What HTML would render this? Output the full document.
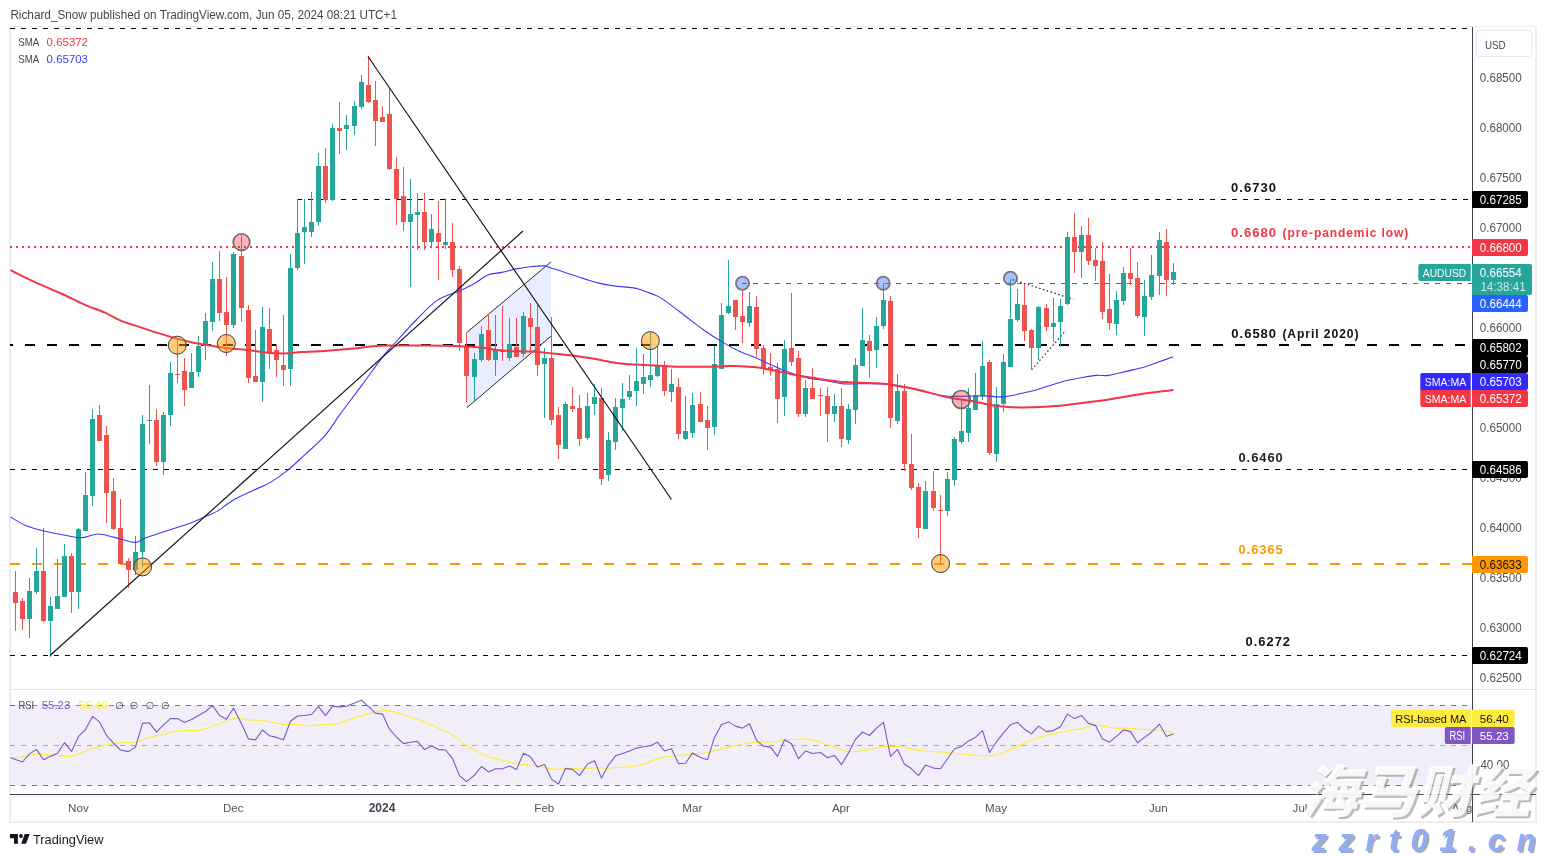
<!DOCTYPE html>
<html><head><meta charset="utf-8"><title>AUDUSD chart</title>
<style>
html,body{margin:0;padding:0;background:#fff;}
body{width:1546px;height:857px;overflow:hidden;position:relative;font-family:"Liberation Sans","DejaVu Sans",sans-serif;}
svg{position:absolute;left:0;top:0;display:block;}
text{font-family:"Liberation Sans","DejaVu Sans",sans-serif;}
.ax{font-size:12px;fill:#50535e;}
.lb{font-size:11.6px;fill:#fff;}
.ann{font-size:13px;font-weight:bold;letter-spacing:1px;}
.tm{font-size:11.6px;fill:#50535e;}
.cjk{font-family:"Liberation Sans","Noto Sans CJK SC",sans-serif;font-weight:900;font-style:italic;}
</style></head><body>
<svg width="1546" height="857" viewBox="0 0 1546 857">
<rect x="0" y="0" width="1546" height="857" fill="#ffffff"/>
<g shape-rendering="crispEdges">
<rect x="9" y="26" width="1528" height="1.4" fill="#ecedf5"/>
<rect x="9" y="26" width="2" height="797" fill="#ebedf5"/>
<rect x="1535" y="26" width="2" height="797" fill="#ebedf5"/>
<rect x="9" y="821" width="1528" height="2" fill="#ecedf5"/>
<rect x="10" y="688.5" width="1526" height="1" fill="#e0e3eb"/>
<rect x="10" y="705" width="1462" height="80.5" fill="#f2eef9"/>
</g>
<g fill="none" stroke-width="1" shape-rendering="crispEdges">
<path d="M10 705.5H1472" stroke="#787b86" stroke-dasharray="5 6"/>
<path d="M10 745.5H1472" stroke="#a5a7ae" stroke-dasharray="5 6"/>
<path d="M10 785.5H1472" stroke="#787b86" stroke-dasharray="5 6"/>
</g>
<g fill="none" shape-rendering="crispEdges">
<path d="M10 28.5H1472" stroke="#000" stroke-width="1" stroke-dasharray="5 6"/>
<path d="M297 199.5H1472" stroke="#000" stroke-width="1" stroke-dasharray="5 6"/>
<path d="M10 247H1472" stroke="#f23645" stroke-width="2" stroke-dasharray="2 4"/>
<path d="M742 283.5H1472" stroke="#2962ff" stroke-width="1" stroke-dasharray="5 6"/>
<path d="M10 345H1472" stroke="#000" stroke-width="2" stroke-dasharray="10 12" stroke-dashoffset="6.7"/>
<path d="M10 469.5H1472" stroke="#000" stroke-width="1" stroke-dasharray="5 6"/>
<path d="M10 564H1472" stroke="#ff9800" stroke-width="2" stroke-dasharray="10 12"/>
<path d="M10 655.5H1472" stroke="#000" stroke-width="1" stroke-dasharray="5 6"/>
</g>
<polygon points="466.5,332.7 551,261.9 551,336.2 466.5,408" fill="#2962ff" fill-opacity="0.11"/>
<path d="M466.5 332.7L551 261.9M466.5 408L551 336.2" stroke="#2a2a2a" stroke-width="1" fill="none"/>
<path d="M1012.5 279.6L1073.7 299.4M1031.6 369.7L1066 330.4" stroke="#222" stroke-width="1.2" stroke-dasharray="1.5 2.5" fill="none"/>
<g shape-rendering="crispEdges">
<rect x="15" y="571" width="1" height="60" fill="#ef5350"/>
<rect x="13" y="592" width="5" height="11" fill="#ef5350"/>
<rect x="22" y="598" width="1" height="32" fill="#ef5350"/>
<rect x="20" y="601" width="5" height="18" fill="#ef5350"/>
<rect x="29" y="578" width="1" height="60" fill="#26a69a"/>
<rect x="27" y="591" width="5" height="28" fill="#26a69a"/>
<rect x="36" y="548" width="1" height="46" fill="#26a69a"/>
<rect x="34" y="571" width="5" height="21" fill="#26a69a"/>
<rect x="43" y="528" width="1" height="94" fill="#ef5350"/>
<rect x="41" y="571" width="5" height="50" fill="#ef5350"/>
<rect x="50" y="597" width="1" height="60" fill="#26a69a"/>
<rect x="48" y="606" width="5" height="15" fill="#26a69a"/>
<rect x="57" y="559" width="1" height="50" fill="#26a69a"/>
<rect x="55" y="596" width="5" height="13" fill="#26a69a"/>
<rect x="64" y="544" width="1" height="53" fill="#26a69a"/>
<rect x="62" y="556" width="5" height="41" fill="#26a69a"/>
<rect x="71" y="553" width="1" height="60" fill="#ef5350"/>
<rect x="69" y="556" width="5" height="36" fill="#ef5350"/>
<rect x="78" y="528" width="1" height="81" fill="#26a69a"/>
<rect x="76" y="529" width="5" height="63" fill="#26a69a"/>
<rect x="85" y="472" width="1" height="59" fill="#26a69a"/>
<rect x="83" y="495" width="5" height="36" fill="#26a69a"/>
<rect x="92" y="409" width="1" height="97" fill="#26a69a"/>
<rect x="90" y="419" width="5" height="77" fill="#26a69a"/>
<rect x="99" y="405" width="1" height="36" fill="#ef5350"/>
<rect x="97" y="415" width="5" height="26" fill="#ef5350"/>
<rect x="106" y="426" width="1" height="97" fill="#ef5350"/>
<rect x="104" y="435" width="5" height="58" fill="#ef5350"/>
<rect x="113" y="478" width="1" height="52" fill="#ef5350"/>
<rect x="111" y="491" width="5" height="38" fill="#ef5350"/>
<rect x="120" y="499" width="1" height="65" fill="#ef5350"/>
<rect x="118" y="528" width="5" height="36" fill="#ef5350"/>
<rect x="128" y="558" width="1" height="30" fill="#ef5350"/>
<rect x="126" y="561" width="5" height="9" fill="#ef5350"/>
<rect x="135" y="536" width="1" height="39" fill="#26a69a"/>
<rect x="133" y="552" width="5" height="18" fill="#26a69a"/>
<rect x="142" y="415" width="1" height="152" fill="#26a69a"/>
<rect x="140" y="424" width="5" height="128" fill="#26a69a"/>
<rect x="149" y="385" width="1" height="59" fill="#26a69a"/>
<rect x="147" y="420" width="5" height="1" fill="#26a69a"/>
<rect x="156" y="409" width="1" height="57" fill="#ef5350"/>
<rect x="154" y="420" width="5" height="42" fill="#ef5350"/>
<rect x="163" y="412" width="1" height="63" fill="#26a69a"/>
<rect x="161" y="415" width="5" height="47" fill="#26a69a"/>
<rect x="170" y="362" width="1" height="64" fill="#26a69a"/>
<rect x="168" y="373" width="5" height="42" fill="#26a69a"/>
<rect x="177" y="338" width="1" height="45" fill="#ef5350"/>
<rect x="175" y="374" width="5" height="1" fill="#ef5350"/>
<rect x="184" y="358" width="1" height="48" fill="#ef5350"/>
<rect x="182" y="371" width="5" height="19" fill="#ef5350"/>
<rect x="191" y="353" width="1" height="35" fill="#26a69a"/>
<rect x="189" y="372" width="5" height="16" fill="#26a69a"/>
<rect x="198" y="336" width="1" height="41" fill="#26a69a"/>
<rect x="196" y="346" width="5" height="26" fill="#26a69a"/>
<rect x="205" y="313" width="1" height="47" fill="#26a69a"/>
<rect x="203" y="321" width="5" height="25" fill="#26a69a"/>
<rect x="212" y="262" width="1" height="69" fill="#26a69a"/>
<rect x="210" y="279" width="5" height="43" fill="#26a69a"/>
<rect x="219" y="251" width="1" height="70" fill="#ef5350"/>
<rect x="217" y="279" width="5" height="34" fill="#ef5350"/>
<rect x="226" y="277" width="1" height="79" fill="#ef5350"/>
<rect x="224" y="312" width="5" height="13" fill="#ef5350"/>
<rect x="233" y="252" width="1" height="76" fill="#26a69a"/>
<rect x="231" y="254" width="5" height="71" fill="#26a69a"/>
<rect x="241" y="235" width="1" height="87" fill="#ef5350"/>
<rect x="239" y="256" width="5" height="52" fill="#ef5350"/>
<rect x="248" y="305" width="1" height="78" fill="#ef5350"/>
<rect x="246" y="310" width="5" height="68" fill="#ef5350"/>
<rect x="255" y="330" width="1" height="52" fill="#ef5350"/>
<rect x="253" y="376" width="5" height="6" fill="#ef5350"/>
<rect x="262" y="307" width="1" height="95" fill="#26a69a"/>
<rect x="260" y="327" width="5" height="55" fill="#26a69a"/>
<rect x="269" y="308" width="1" height="61" fill="#ef5350"/>
<rect x="267" y="329" width="5" height="23" fill="#ef5350"/>
<rect x="276" y="344" width="1" height="33" fill="#ef5350"/>
<rect x="274" y="350" width="5" height="10" fill="#ef5350"/>
<rect x="283" y="315" width="1" height="71" fill="#ef5350"/>
<rect x="281" y="365" width="5" height="5" fill="#ef5350"/>
<rect x="290" y="254" width="1" height="132" fill="#26a69a"/>
<rect x="288" y="268" width="5" height="101" fill="#26a69a"/>
<rect x="297" y="199" width="1" height="71" fill="#26a69a"/>
<rect x="295" y="233" width="5" height="35" fill="#26a69a"/>
<rect x="304" y="199" width="1" height="65" fill="#26a69a"/>
<rect x="302" y="227" width="5" height="5" fill="#26a69a"/>
<rect x="311" y="192" width="1" height="45" fill="#26a69a"/>
<rect x="309" y="222" width="5" height="10" fill="#26a69a"/>
<rect x="318" y="153" width="1" height="73" fill="#26a69a"/>
<rect x="316" y="166" width="5" height="56" fill="#26a69a"/>
<rect x="325" y="148" width="1" height="55" fill="#ef5350"/>
<rect x="323" y="166" width="5" height="34" fill="#ef5350"/>
<rect x="332" y="124" width="1" height="77" fill="#26a69a"/>
<rect x="330" y="128" width="5" height="72" fill="#26a69a"/>
<rect x="339" y="102" width="1" height="52" fill="#ef5350"/>
<rect x="337" y="128" width="5" height="3" fill="#ef5350"/>
<rect x="346" y="115" width="1" height="35" fill="#26a69a"/>
<rect x="344" y="125" width="5" height="4" fill="#26a69a"/>
<rect x="354" y="101" width="1" height="34" fill="#26a69a"/>
<rect x="352" y="106" width="5" height="20" fill="#26a69a"/>
<rect x="361" y="75" width="1" height="34" fill="#26a69a"/>
<rect x="359" y="82" width="5" height="25" fill="#26a69a"/>
<rect x="368" y="56" width="1" height="47" fill="#ef5350"/>
<rect x="366" y="85" width="5" height="17" fill="#ef5350"/>
<rect x="375" y="81" width="1" height="65" fill="#ef5350"/>
<rect x="373" y="100" width="5" height="21" fill="#ef5350"/>
<rect x="382" y="106" width="1" height="16" fill="#ef5350"/>
<rect x="380" y="117" width="5" height="5" fill="#ef5350"/>
<rect x="389" y="88" width="1" height="82" fill="#ef5350"/>
<rect x="387" y="114" width="5" height="55" fill="#ef5350"/>
<rect x="396" y="157" width="1" height="68" fill="#ef5350"/>
<rect x="394" y="169" width="5" height="30" fill="#ef5350"/>
<rect x="403" y="167" width="1" height="64" fill="#ef5350"/>
<rect x="401" y="196" width="5" height="26" fill="#ef5350"/>
<rect x="410" y="179" width="1" height="108" fill="#26a69a"/>
<rect x="408" y="214" width="5" height="8" fill="#26a69a"/>
<rect x="417" y="193" width="1" height="57" fill="#26a69a"/>
<rect x="415" y="212" width="5" height="3" fill="#26a69a"/>
<rect x="424" y="193" width="1" height="57" fill="#ef5350"/>
<rect x="422" y="212" width="5" height="30" fill="#ef5350"/>
<rect x="431" y="214" width="1" height="34" fill="#26a69a"/>
<rect x="429" y="229" width="5" height="13" fill="#26a69a"/>
<rect x="438" y="201" width="1" height="79" fill="#ef5350"/>
<rect x="436" y="233" width="5" height="9" fill="#ef5350"/>
<rect x="445" y="198" width="1" height="51" fill="#26a69a"/>
<rect x="443" y="242" width="5" height="3" fill="#26a69a"/>
<rect x="452" y="223" width="1" height="54" fill="#ef5350"/>
<rect x="450" y="242" width="5" height="28" fill="#ef5350"/>
<rect x="459" y="266" width="1" height="85" fill="#ef5350"/>
<rect x="457" y="269" width="5" height="74" fill="#ef5350"/>
<rect x="466" y="333" width="1" height="69" fill="#ef5350"/>
<rect x="464" y="346" width="5" height="30" fill="#ef5350"/>
<rect x="474" y="353" width="1" height="48" fill="#26a69a"/>
<rect x="472" y="359" width="5" height="18" fill="#26a69a"/>
<rect x="481" y="326" width="1" height="36" fill="#26a69a"/>
<rect x="479" y="334" width="5" height="26" fill="#26a69a"/>
<rect x="488" y="314" width="1" height="47" fill="#ef5350"/>
<rect x="486" y="330" width="5" height="30" fill="#ef5350"/>
<rect x="495" y="315" width="1" height="61" fill="#26a69a"/>
<rect x="493" y="350" width="5" height="10" fill="#26a69a"/>
<rect x="502" y="306" width="1" height="55" fill="#ef5350"/>
<rect x="500" y="350" width="5" height="2" fill="#ef5350"/>
<rect x="509" y="318" width="1" height="43" fill="#26a69a"/>
<rect x="507" y="344" width="5" height="14" fill="#26a69a"/>
<rect x="516" y="318" width="1" height="39" fill="#ef5350"/>
<rect x="514" y="347" width="5" height="10" fill="#ef5350"/>
<rect x="523" y="312" width="1" height="45" fill="#26a69a"/>
<rect x="521" y="316" width="5" height="38" fill="#26a69a"/>
<rect x="530" y="303" width="1" height="48" fill="#ef5350"/>
<rect x="528" y="318" width="5" height="9" fill="#ef5350"/>
<rect x="537" y="305" width="1" height="71" fill="#ef5350"/>
<rect x="535" y="327" width="5" height="38" fill="#ef5350"/>
<rect x="544" y="348" width="1" height="70" fill="#26a69a"/>
<rect x="542" y="358" width="5" height="6" fill="#26a69a"/>
<rect x="551" y="317" width="1" height="108" fill="#ef5350"/>
<rect x="549" y="358" width="5" height="62" fill="#ef5350"/>
<rect x="558" y="407" width="1" height="52" fill="#ef5350"/>
<rect x="556" y="415" width="5" height="30" fill="#ef5350"/>
<rect x="565" y="402" width="1" height="47" fill="#26a69a"/>
<rect x="563" y="404" width="5" height="45" fill="#26a69a"/>
<rect x="572" y="387" width="1" height="25" fill="#ef5350"/>
<rect x="570" y="406" width="5" height="3" fill="#ef5350"/>
<rect x="579" y="395" width="1" height="51" fill="#ef5350"/>
<rect x="577" y="408" width="5" height="31" fill="#ef5350"/>
<rect x="587" y="393" width="1" height="47" fill="#26a69a"/>
<rect x="585" y="406" width="5" height="32" fill="#26a69a"/>
<rect x="594" y="384" width="1" height="31" fill="#26a69a"/>
<rect x="592" y="397" width="5" height="7" fill="#26a69a"/>
<rect x="601" y="388" width="1" height="97" fill="#ef5350"/>
<rect x="599" y="398" width="5" height="81" fill="#ef5350"/>
<rect x="608" y="432" width="1" height="49" fill="#26a69a"/>
<rect x="606" y="440" width="5" height="35" fill="#26a69a"/>
<rect x="615" y="398" width="1" height="52" fill="#26a69a"/>
<rect x="613" y="407" width="5" height="35" fill="#26a69a"/>
<rect x="622" y="383" width="1" height="48" fill="#26a69a"/>
<rect x="620" y="399" width="5" height="9" fill="#26a69a"/>
<rect x="629" y="375" width="1" height="25" fill="#26a69a"/>
<rect x="627" y="391" width="5" height="6" fill="#26a69a"/>
<rect x="636" y="348" width="1" height="58" fill="#26a69a"/>
<rect x="634" y="381" width="5" height="10" fill="#26a69a"/>
<rect x="643" y="354" width="1" height="40" fill="#26a69a"/>
<rect x="641" y="377" width="5" height="7" fill="#26a69a"/>
<rect x="650" y="332" width="1" height="55" fill="#26a69a"/>
<rect x="648" y="375" width="5" height="5" fill="#26a69a"/>
<rect x="657" y="346" width="1" height="31" fill="#26a69a"/>
<rect x="655" y="365" width="5" height="11" fill="#26a69a"/>
<rect x="664" y="361" width="1" height="35" fill="#ef5350"/>
<rect x="662" y="365" width="5" height="26" fill="#ef5350"/>
<rect x="671" y="369" width="1" height="33" fill="#26a69a"/>
<rect x="669" y="384" width="5" height="8" fill="#26a69a"/>
<rect x="678" y="378" width="1" height="61" fill="#ef5350"/>
<rect x="676" y="387" width="5" height="47" fill="#ef5350"/>
<rect x="685" y="396" width="1" height="44" fill="#26a69a"/>
<rect x="683" y="431" width="5" height="8" fill="#26a69a"/>
<rect x="692" y="393" width="1" height="45" fill="#26a69a"/>
<rect x="690" y="405" width="5" height="28" fill="#26a69a"/>
<rect x="700" y="392" width="1" height="30" fill="#ef5350"/>
<rect x="698" y="404" width="5" height="18" fill="#ef5350"/>
<rect x="707" y="406" width="1" height="44" fill="#ef5350"/>
<rect x="705" y="420" width="5" height="8" fill="#ef5350"/>
<rect x="714" y="346" width="1" height="89" fill="#26a69a"/>
<rect x="712" y="364" width="5" height="63" fill="#26a69a"/>
<rect x="721" y="303" width="1" height="66" fill="#26a69a"/>
<rect x="719" y="315" width="5" height="54" fill="#26a69a"/>
<rect x="728" y="260" width="1" height="54" fill="#26a69a"/>
<rect x="726" y="306" width="5" height="7" fill="#26a69a"/>
<rect x="735" y="300" width="1" height="30" fill="#ef5350"/>
<rect x="733" y="300" width="5" height="17" fill="#ef5350"/>
<rect x="742" y="290" width="1" height="53" fill="#ef5350"/>
<rect x="740" y="316" width="5" height="6" fill="#ef5350"/>
<rect x="749" y="292" width="1" height="35" fill="#26a69a"/>
<rect x="747" y="306" width="5" height="17" fill="#26a69a"/>
<rect x="756" y="296" width="1" height="61" fill="#ef5350"/>
<rect x="754" y="307" width="5" height="42" fill="#ef5350"/>
<rect x="763" y="345" width="1" height="30" fill="#ef5350"/>
<rect x="761" y="348" width="5" height="20" fill="#ef5350"/>
<rect x="770" y="353" width="1" height="23" fill="#ef5350"/>
<rect x="768" y="367" width="5" height="3" fill="#ef5350"/>
<rect x="777" y="363" width="1" height="60" fill="#ef5350"/>
<rect x="775" y="369" width="5" height="30" fill="#ef5350"/>
<rect x="784" y="340" width="1" height="76" fill="#26a69a"/>
<rect x="782" y="349" width="5" height="48" fill="#26a69a"/>
<rect x="791" y="293" width="1" height="73" fill="#ef5350"/>
<rect x="789" y="348" width="5" height="14" fill="#ef5350"/>
<rect x="798" y="351" width="1" height="66" fill="#ef5350"/>
<rect x="796" y="358" width="5" height="56" fill="#ef5350"/>
<rect x="805" y="380" width="1" height="37" fill="#26a69a"/>
<rect x="803" y="388" width="5" height="26" fill="#26a69a"/>
<rect x="812" y="368" width="1" height="31" fill="#ef5350"/>
<rect x="810" y="388" width="5" height="11" fill="#ef5350"/>
<rect x="820" y="388" width="1" height="28" fill="#ef5350"/>
<rect x="818" y="395" width="5" height="1" fill="#ef5350"/>
<rect x="827" y="387" width="1" height="55" fill="#ef5350"/>
<rect x="825" y="396" width="5" height="18" fill="#ef5350"/>
<rect x="834" y="394" width="1" height="28" fill="#26a69a"/>
<rect x="832" y="406" width="5" height="8" fill="#26a69a"/>
<rect x="841" y="388" width="1" height="59" fill="#ef5350"/>
<rect x="839" y="406" width="5" height="33" fill="#ef5350"/>
<rect x="848" y="404" width="1" height="40" fill="#26a69a"/>
<rect x="846" y="409" width="5" height="31" fill="#26a69a"/>
<rect x="855" y="358" width="1" height="66" fill="#26a69a"/>
<rect x="853" y="365" width="5" height="45" fill="#26a69a"/>
<rect x="862" y="308" width="1" height="58" fill="#26a69a"/>
<rect x="860" y="340" width="5" height="26" fill="#26a69a"/>
<rect x="869" y="335" width="1" height="43" fill="#ef5350"/>
<rect x="867" y="341" width="5" height="10" fill="#ef5350"/>
<rect x="876" y="317" width="1" height="51" fill="#26a69a"/>
<rect x="874" y="326" width="5" height="24" fill="#26a69a"/>
<rect x="883" y="283" width="1" height="46" fill="#26a69a"/>
<rect x="881" y="300" width="5" height="26" fill="#26a69a"/>
<rect x="890" y="296" width="1" height="132" fill="#ef5350"/>
<rect x="888" y="301" width="5" height="117" fill="#ef5350"/>
<rect x="897" y="374" width="1" height="50" fill="#26a69a"/>
<rect x="895" y="391" width="5" height="30" fill="#26a69a"/>
<rect x="904" y="384" width="1" height="87" fill="#ef5350"/>
<rect x="902" y="391" width="5" height="73" fill="#ef5350"/>
<rect x="911" y="434" width="1" height="56" fill="#ef5350"/>
<rect x="909" y="464" width="5" height="24" fill="#ef5350"/>
<rect x="918" y="483" width="1" height="55" fill="#ef5350"/>
<rect x="916" y="487" width="5" height="41" fill="#ef5350"/>
<rect x="925" y="481" width="1" height="48" fill="#26a69a"/>
<rect x="923" y="491" width="5" height="38" fill="#26a69a"/>
<rect x="933" y="471" width="1" height="40" fill="#ef5350"/>
<rect x="931" y="491" width="5" height="17" fill="#ef5350"/>
<rect x="940" y="495" width="1" height="69" fill="#ef5350"/>
<rect x="938" y="510" width="5" height="1" fill="#ef5350"/>
<rect x="947" y="472" width="1" height="44" fill="#26a69a"/>
<rect x="945" y="479" width="5" height="32" fill="#26a69a"/>
<rect x="954" y="437" width="1" height="49" fill="#26a69a"/>
<rect x="952" y="439" width="5" height="41" fill="#26a69a"/>
<rect x="961" y="398" width="1" height="46" fill="#26a69a"/>
<rect x="959" y="431" width="5" height="11" fill="#26a69a"/>
<rect x="968" y="388" width="1" height="54" fill="#26a69a"/>
<rect x="966" y="408" width="5" height="25" fill="#26a69a"/>
<rect x="975" y="373" width="1" height="37" fill="#26a69a"/>
<rect x="973" y="395" width="5" height="15" fill="#26a69a"/>
<rect x="982" y="341" width="1" height="59" fill="#26a69a"/>
<rect x="980" y="366" width="5" height="30" fill="#26a69a"/>
<rect x="989" y="360" width="1" height="95" fill="#ef5350"/>
<rect x="987" y="362" width="5" height="91" fill="#ef5350"/>
<rect x="996" y="387" width="1" height="75" fill="#26a69a"/>
<rect x="994" y="404" width="5" height="50" fill="#26a69a"/>
<rect x="1003" y="354" width="1" height="58" fill="#26a69a"/>
<rect x="1001" y="362" width="5" height="42" fill="#26a69a"/>
<rect x="1010" y="279" width="1" height="88" fill="#26a69a"/>
<rect x="1008" y="319" width="5" height="48" fill="#26a69a"/>
<rect x="1017" y="289" width="1" height="33" fill="#26a69a"/>
<rect x="1015" y="304" width="5" height="16" fill="#26a69a"/>
<rect x="1024" y="284" width="1" height="57" fill="#ef5350"/>
<rect x="1022" y="305" width="5" height="26" fill="#ef5350"/>
<rect x="1031" y="329" width="1" height="41" fill="#ef5350"/>
<rect x="1029" y="330" width="5" height="18" fill="#ef5350"/>
<rect x="1038" y="306" width="1" height="54" fill="#26a69a"/>
<rect x="1036" y="307" width="5" height="41" fill="#26a69a"/>
<rect x="1046" y="304" width="1" height="27" fill="#ef5350"/>
<rect x="1044" y="308" width="5" height="19" fill="#ef5350"/>
<rect x="1053" y="298" width="1" height="44" fill="#26a69a"/>
<rect x="1051" y="323" width="5" height="4" fill="#26a69a"/>
<rect x="1060" y="299" width="1" height="48" fill="#26a69a"/>
<rect x="1058" y="306" width="5" height="16" fill="#26a69a"/>
<rect x="1067" y="232" width="1" height="73" fill="#26a69a"/>
<rect x="1065" y="237" width="5" height="67" fill="#26a69a"/>
<rect x="1074" y="213" width="1" height="60" fill="#ef5350"/>
<rect x="1072" y="237" width="5" height="15" fill="#ef5350"/>
<rect x="1081" y="226" width="1" height="52" fill="#26a69a"/>
<rect x="1079" y="235" width="5" height="17" fill="#26a69a"/>
<rect x="1088" y="218" width="1" height="47" fill="#ef5350"/>
<rect x="1086" y="235" width="5" height="26" fill="#ef5350"/>
<rect x="1095" y="248" width="1" height="33" fill="#ef5350"/>
<rect x="1093" y="260" width="5" height="6" fill="#ef5350"/>
<rect x="1102" y="242" width="1" height="77" fill="#ef5350"/>
<rect x="1100" y="261" width="5" height="51" fill="#ef5350"/>
<rect x="1109" y="274" width="1" height="56" fill="#ef5350"/>
<rect x="1107" y="309" width="5" height="14" fill="#ef5350"/>
<rect x="1116" y="291" width="1" height="44" fill="#26a69a"/>
<rect x="1114" y="300" width="5" height="24" fill="#26a69a"/>
<rect x="1123" y="267" width="1" height="38" fill="#26a69a"/>
<rect x="1121" y="273" width="5" height="28" fill="#26a69a"/>
<rect x="1130" y="248" width="1" height="37" fill="#ef5350"/>
<rect x="1128" y="273" width="5" height="6" fill="#ef5350"/>
<rect x="1137" y="262" width="1" height="56" fill="#ef5350"/>
<rect x="1135" y="278" width="5" height="38" fill="#ef5350"/>
<rect x="1144" y="280" width="1" height="56" fill="#26a69a"/>
<rect x="1142" y="296" width="5" height="21" fill="#26a69a"/>
<rect x="1151" y="255" width="1" height="45" fill="#26a69a"/>
<rect x="1149" y="275" width="5" height="22" fill="#26a69a"/>
<rect x="1159" y="232" width="1" height="63" fill="#26a69a"/>
<rect x="1157" y="240" width="5" height="36" fill="#26a69a"/>
<rect x="1166" y="229" width="1" height="67" fill="#ef5350"/>
<rect x="1164" y="242" width="5" height="38" fill="#ef5350"/>
<rect x="1173" y="263" width="1" height="22" fill="#26a69a"/>
<rect x="1171" y="272" width="5" height="8" fill="#26a69a"/>
</g>
<path d="M10.5 517.0C13.1 518.5 20.7 523.4 26.2 525.7C31.7 528.0 37.9 529.5 43.7 531.0C49.5 532.5 55.7 533.4 61.2 534.5C66.8 535.6 72.9 537.1 77.0 537.5C81.1 537.9 82.2 537.7 85.7 537.1C89.2 536.5 93.3 534.0 98.0 534.0C102.7 534.0 107.6 535.7 113.7 537.1C119.8 538.5 129.4 542.2 134.7 542.4C139.9 542.5 139.9 539.9 145.2 538.0C150.4 536.1 158.3 533.6 166.2 531.0C174.1 528.4 185.8 524.7 192.5 522.2C199.2 519.7 202.3 518.0 206.5 516.1C210.7 514.2 213.4 513.5 217.8 510.9C222.2 508.3 226.6 503.9 232.7 500.4C238.8 496.9 248.0 493.0 254.2 490.0C260.4 487.0 264.4 485.9 270.0 482.6C275.6 479.3 281.7 475.1 287.5 470.4C293.3 465.7 298.7 460.4 305.0 454.6C311.3 448.8 319.3 442.1 325.1 435.4C330.9 428.7 334.0 422.6 340.0 414.4C346.0 406.2 353.7 396.2 361.0 386.4C368.3 376.6 377.6 363.4 383.7 355.7C389.8 348.0 392.3 345.9 397.7 340.0C403.1 334.1 409.6 326.6 416.2 320.0C422.8 313.4 429.9 305.3 437.2 300.4C444.5 295.5 453.9 293.5 460.0 290.7C466.1 287.9 469.3 286.3 474.0 283.7C478.7 281.1 483.3 276.9 488.0 275.0C492.7 273.1 497.3 273.4 502.0 272.4C506.7 271.4 511.3 269.8 516.0 268.9C520.7 268.0 525.3 267.3 530.0 266.8C534.7 266.3 540.5 265.7 544.0 265.9C547.5 266.1 547.5 266.9 551.0 268.0C554.5 269.1 559.2 270.5 565.0 272.4C570.8 274.3 580.2 277.6 586.0 279.4C591.8 281.2 594.8 282.2 600.0 283.4C605.2 284.6 611.7 285.6 617.5 286.4C623.3 287.2 630.3 287.2 635.0 288.1C639.7 289.0 641.3 290.1 645.5 291.6C649.7 293.2 654.2 294.0 660.0 297.4C665.8 300.8 672.7 306.6 680.0 312.0C687.3 317.4 696.8 325.1 703.7 330.0C710.6 334.9 715.4 337.9 721.2 341.4C727.0 344.9 732.9 348.2 738.7 351.0C744.5 353.8 750.4 355.5 756.2 358.0C762.0 360.5 767.9 363.4 773.7 365.9C779.5 368.4 785.4 370.9 791.2 372.9C797.0 374.9 802.9 376.8 808.7 378.1C814.5 379.4 820.4 379.7 826.2 380.7C832.0 381.7 838.5 383.4 843.7 383.9C848.9 384.4 850.3 383.7 857.5 383.7C864.7 383.7 878.2 383.4 887.0 384.1C895.8 384.8 902.7 386.6 910.0 388.1C917.3 389.7 924.6 392.0 931.0 393.4C937.4 394.8 941.5 395.9 948.5 396.3C955.5 396.7 966.7 396.1 973.0 396.0C979.3 395.9 981.1 395.8 986.2 395.9C991.3 396.0 996.4 397.4 1003.7 396.7C1011.0 396.0 1022.7 393.2 1030.0 391.5C1037.3 389.8 1041.4 388.0 1047.5 386.2C1053.6 384.4 1060.9 381.9 1066.7 380.5C1072.5 379.1 1077.5 378.4 1082.5 377.5C1087.5 376.6 1092.1 375.8 1096.5 375.4C1100.9 375.0 1103.8 376.1 1108.7 375.4C1113.7 374.7 1120.4 372.8 1126.2 371.4C1132.0 370.0 1138.5 368.8 1143.7 367.3C1149.0 365.8 1152.8 364.1 1157.7 362.3C1162.6 360.6 1170.5 357.7 1173.1 356.8" fill="none" stroke="#3a3af5" stroke-width="1.1" stroke-linejoin="round"/>
<path d="M10.5 270.2C14.6 272.2 26.5 278.2 35.0 282.1C43.5 286.0 53.0 289.8 61.2 293.5C69.4 297.2 76.7 301.1 84.0 304.3C91.3 307.5 98.9 310.0 105.0 312.7C111.1 315.4 114.9 318.2 120.7 320.6C126.5 323.0 133.9 325.1 140.0 327.1C146.1 329.2 151.7 331.1 157.5 332.9C163.3 334.7 169.2 336.5 175.0 338.1C180.8 339.7 186.7 341.2 192.5 342.5C198.3 343.8 204.2 344.6 210.0 345.6C215.8 346.6 221.7 347.6 227.5 348.3C233.3 349.0 238.6 349.1 245.0 349.8C251.4 350.5 259.8 351.9 266.2 352.5C272.6 353.1 277.9 353.5 283.7 353.4C289.5 353.3 293.9 352.6 301.2 352.1C308.5 351.7 318.8 351.3 327.5 350.7C336.2 350.1 346.6 349.3 353.7 348.6C360.8 347.9 363.9 346.9 370.0 346.4C376.1 345.9 380.8 345.6 390.0 345.5C399.2 345.4 413.3 345.4 425.0 345.5C436.7 345.6 450.7 345.8 460.0 346.2C469.3 346.6 474.0 346.9 481.0 347.6C488.0 348.3 493.8 349.9 502.0 350.6C510.2 351.3 522.4 351.2 530.0 351.6C537.6 352.0 540.5 352.2 547.5 352.9C554.5 353.5 564.4 354.6 572.0 355.5C579.6 356.4 585.6 357.4 593.0 358.6C600.4 359.8 608.0 361.8 616.2 362.9C624.5 364.0 632.3 364.4 642.5 365.0C652.7 365.6 665.8 366.4 677.5 366.7C689.2 367.0 703.2 366.8 712.5 366.7C721.8 366.6 726.2 365.8 733.5 365.9C740.8 366.0 749.5 366.5 756.2 367.3C762.9 368.1 766.4 369.2 773.7 370.6C781.0 372.0 791.2 374.2 800.0 375.8C808.8 377.4 818.9 378.8 826.2 379.9C833.5 380.9 838.1 381.6 843.7 382.1C849.3 382.6 853.3 382.5 860.0 382.8C866.7 383.1 875.4 382.8 883.7 383.7C892.0 384.6 902.7 386.7 910.0 388.1C917.3 389.5 921.1 390.6 927.5 392.1C933.9 393.7 940.9 395.9 948.5 397.4C956.1 398.9 966.3 400.0 973.0 401.2C979.7 402.4 983.2 403.8 988.7 404.7C994.2 405.6 1000.2 406.4 1006.0 406.8C1011.8 407.2 1015.3 407.5 1023.7 407.4C1032.1 407.3 1046.4 406.8 1056.2 406.0C1066.0 405.2 1073.8 404.0 1082.5 402.9C1091.2 401.8 1100.0 400.7 1108.7 399.4C1117.5 398.1 1127.7 396.2 1135.0 395.0C1142.3 393.8 1146.1 393.2 1152.5 392.4C1158.9 391.6 1170.0 390.5 1173.5 390.1" fill="none" stroke="#f23645" stroke-width="2" stroke-linejoin="round"/>
<path d="M50 655.5L523 231" stroke="#111" stroke-width="1.15" fill="none"/>
<path d="M368 56.5L671.5 499.5" stroke="#111" stroke-width="1.15" fill="none"/>
<circle cx="142.6" cy="566.9" r="9" fill="#ff9800" fill-opacity="0.5" stroke="#3c3c3c" stroke-width="1"/>
<circle cx="177.3" cy="345.2" r="9" fill="#ff9800" fill-opacity="0.5" stroke="#3c3c3c" stroke-width="1"/>
<circle cx="226.3" cy="343.5" r="9" fill="#ff9800" fill-opacity="0.5" stroke="#3c3c3c" stroke-width="1"/>
<circle cx="650.4" cy="340.6" r="9" fill="#ff9800" fill-opacity="0.5" stroke="#3c3c3c" stroke-width="1"/>
<circle cx="940.6" cy="563.6" r="9" fill="#ff9800" fill-opacity="0.5" stroke="#3c3c3c" stroke-width="1"/>
<circle cx="241.5" cy="242.1" r="8.3" fill="#f23645" fill-opacity="0.38" stroke="#666" stroke-width="1.6"/>
<circle cx="961.3" cy="399.5" r="9" fill="#f23645" fill-opacity="0.38" stroke="#666" stroke-width="1.6"/>
<circle cx="742.5" cy="283.3" r="6.6" fill="#2962ff" fill-opacity="0.4" stroke="#777" stroke-width="1.8"/>
<circle cx="883.2" cy="283.3" r="6.6" fill="#2962ff" fill-opacity="0.4" stroke="#777" stroke-width="1.8"/>
<circle cx="1010.4" cy="278.3" r="6.6" fill="#2962ff" fill-opacity="0.4" stroke="#777" stroke-width="1.8"/>
<path d="M10.7 757.2C12.5 757.2 17.1 757.7 21.3 757.2C25.6 756.7 31.0 754.7 35.9 754.3C40.8 753.9 44.6 754.5 50.5 754.9C56.3 755.2 65.7 756.7 70.8 756.4C76.0 756.1 77.9 754.2 81.5 752.9C85.1 751.6 88.0 750.0 92.2 748.7C96.4 747.3 102.0 745.5 106.7 744.6C111.4 743.6 115.6 743.2 120.3 742.8C125.0 742.4 130.0 743.2 134.9 742.2C139.7 741.3 144.7 738.7 149.4 737.4C154.1 736.1 158.8 735.5 163.0 734.5C167.2 733.5 171.1 732.2 174.7 731.6C178.2 730.9 180.5 730.8 184.4 730.6C188.2 730.4 194.4 730.9 197.9 730.6C201.5 730.3 202.1 729.8 205.7 728.7C209.3 727.5 214.8 725.5 219.3 723.8C223.8 722.1 229.3 719.4 232.9 718.6C236.4 717.7 238.0 718.3 240.6 718.6C243.2 718.8 244.8 719.6 248.4 719.9C252.0 720.3 256.2 719.8 262.0 720.5C267.8 721.3 278.7 723.7 283.3 724.4C288.0 725.0 287.3 724.3 290.0 724.4C292.7 724.5 296.1 724.6 299.7 724.8C303.3 725.0 308.1 725.8 311.3 725.8C314.6 725.8 315.7 725.0 319.1 724.8C322.5 724.6 328.3 724.7 331.7 724.4C335.1 724.1 335.9 724.2 339.5 723.2C343.0 722.2 348.4 719.9 353.1 718.4C357.8 716.9 363.9 715.1 367.6 714.1C371.3 713.1 372.8 712.8 375.4 712.2C378.0 711.5 380.6 710.4 383.1 710.2C385.7 710.1 387.7 710.5 390.9 711.2C394.1 711.9 398.4 713.4 402.6 714.7C406.8 716.0 412.3 717.7 416.1 719.0C420.0 720.3 422.3 721.0 425.8 722.5C429.4 723.9 433.1 725.7 437.5 727.7C441.9 729.7 447.5 731.7 452.0 734.5C456.6 737.2 460.6 741.4 464.7 744.2C468.7 746.9 472.4 749.0 476.3 751.0C480.2 753.0 484.7 754.9 487.9 756.2C491.2 757.5 492.1 757.8 495.7 758.7C499.3 759.7 505.7 761.2 509.3 762.0C512.8 762.9 513.5 763.5 517.1 764.0C520.6 764.5 526.1 764.4 530.6 765.0C535.2 765.5 540.7 766.8 544.2 767.5C547.8 768.1 549.6 768.5 552.0 768.8C554.4 769.2 556.5 769.5 558.8 769.4C561.0 769.4 562.2 768.5 565.6 768.4C569.0 768.3 576.7 768.8 579.2 768.8C581.6 768.9 577.6 769.0 580.0 768.8C582.4 768.7 589.1 767.9 593.6 767.9C598.1 767.8 603.6 768.5 607.2 768.4C610.7 768.4 611.4 767.7 614.9 767.5C618.5 767.2 623.8 767.4 628.5 766.9C633.2 766.3 638.2 765.5 643.1 764.2C647.9 762.8 652.9 760.1 657.6 758.7C662.3 757.4 667.8 756.8 671.2 756.2C674.6 755.7 674.4 755.8 678.0 755.4C681.6 755.1 687.8 754.8 692.6 754.3C697.3 753.8 702.0 753.4 706.7 752.5C711.5 751.7 716.3 750.2 721.1 749.0C725.8 747.9 730.6 746.8 735.2 745.7C739.9 744.7 744.5 743.4 749.2 742.8C753.9 742.2 758.8 742.5 763.4 742.2C768.0 742.0 773.5 741.7 777.0 741.3C780.4 740.9 780.7 740.2 784.2 739.9C787.6 739.6 794.4 739.5 797.9 739.3C801.4 739.1 802.7 738.7 805.1 738.8C807.5 738.9 809.9 739.4 812.3 739.9C814.7 740.4 816.1 740.7 819.7 741.9C823.3 743.1 829.1 745.5 833.8 747.1C838.6 748.7 844.6 750.9 848.2 751.6C851.8 752.3 852.1 751.7 855.6 751.4C859.1 751.0 866.7 749.9 869.2 749.6C871.6 749.3 867.7 749.9 870.0 749.4C872.3 748.9 878.7 747.2 883.2 746.7C887.7 746.3 892.5 746.4 897.2 746.7C901.8 747.0 907.6 748.0 911.1 748.7C914.7 749.3 915.0 749.9 918.5 750.4C922.1 750.9 927.6 751.2 932.5 751.6C937.3 751.9 942.8 752.1 947.6 752.5C952.4 752.9 956.6 753.4 961.2 753.9C965.8 754.3 971.3 754.9 975.2 755.3C979.1 755.6 981.0 755.9 984.5 755.8C988.0 755.8 992.6 755.6 996.1 754.9C999.7 754.2 1002.3 753.0 1005.8 751.6C1009.4 750.1 1013.3 748.0 1017.5 746.1C1021.7 744.3 1027.6 741.8 1031.1 740.3C1034.5 738.9 1034.4 738.4 1038.1 737.4C1041.7 736.4 1048.2 735.2 1053.0 734.1C1057.8 733.0 1062.3 731.9 1067.0 731.0C1071.7 730.1 1077.6 729.4 1081.1 728.7C1084.7 727.9 1086.0 726.9 1088.3 726.3C1090.6 725.8 1092.8 725.5 1095.1 725.4C1097.4 725.3 1098.4 725.3 1101.9 725.8C1105.4 726.2 1111.2 727.7 1115.9 728.1C1120.6 728.5 1126.5 727.9 1130.0 728.1C1133.6 728.3 1133.7 729.0 1137.2 729.2C1140.8 729.5 1147.8 729.5 1151.4 729.6C1155.0 729.8 1155.7 729.6 1158.8 730.0C1161.9 730.4 1167.6 731.5 1170.0 732.0C1172.4 732.4 1172.7 732.4 1173.2 732.5" fill="none" stroke="#ffeb3b" stroke-width="1.2" stroke-linejoin="round"/>
<path d="M10.7 757.8 L22.5 762.0 L29.5 753.9 L36.5 749.4 L43.5 759.7 L50.5 756.2 L57.5 753.3 L64.5 742.6 L71.5 751.4 L78.5 736.4 L85.5 729.6 L92.5 716.4 L99.5 721.9 L106.5 735.5 L113.5 743.2 L120.5 750.0 L128.5 751.6 L135.5 747.1 L142.5 723.4 L149.5 722.8 L156.5 732.2 L163.5 724.8 L170.5 718.6 L177.5 718.6 L184.5 722.5 L191.5 719.5 L198.5 715.5 L205.5 711.6 L212.5 705.4 L219.5 715.5 L226.5 719.3 L233.5 708.3 L241.5 723.8 L248.5 738.9 L255.5 739.9 L262.5 730.0 L269.5 735.8 L276.5 737.4 L283.5 739.7 L290.5 721.3 L297.5 716.0 L304.5 715.5 L311.5 714.5 L318.5 706.7 L325.5 715.7 L332.5 706.3 L339.5 706.9 L346.5 706.3 L354.5 703.0 L361.5 700.1 L368.5 706.7 L375.5 713.1 L382.5 714.1 L389.5 729.2 L396.5 737.0 L403.5 743.6 L410.5 742.2 L417.5 741.3 L424.5 749.6 L431.5 746.1 L438.5 749.6 L445.5 750.0 L452.5 758.4 L459.5 775.6 L466.5 781.6 L474.5 775.2 L481.5 766.5 L488.5 771.9 L495.5 768.8 L502.5 768.8 L509.5 766.1 L516.5 769.4 L523.5 753.3 L530.5 756.8 L537.5 767.1 L544.5 764.6 L551.5 779.1 L558.5 784.0 L565.5 768.4 L572.5 769.4 L579.5 775.6 L587.5 764.0 L594.5 760.7 L601.5 778.1 L608.5 765.0 L615.5 755.8 L622.5 753.5 L629.5 751.0 L636.5 748.1 L643.5 746.7 L650.5 745.7 L657.5 742.2 L664.5 751.0 L671.5 748.7 L678.5 763.6 L685.5 763.2 L692.5 752.9 L700.5 757.4 L707.5 759.7 L714.5 737.4 L721.5 724.4 L728.5 721.9 L735.5 726.1 L742.5 728.1 L749.5 723.8 L756.5 740.3 L763.5 746.1 L770.5 747.1 L777.5 756.4 L784.5 739.7 L791.5 743.8 L798.5 758.7 L805.5 751.0 L812.5 753.5 L820.5 752.5 L827.5 757.8 L834.5 755.4 L841.5 764.6 L848.5 752.9 L855.5 739.3 L862.5 732.0 L869.5 735.5 L876.5 728.1 L883.5 722.3 L890.5 756.4 L897.5 749.4 L904.5 764.2 L911.5 768.8 L918.5 775.6 L925.5 765.1 L933.5 768.1 L940.5 768.8 L947.5 758.7 L954.5 748.7 L961.5 746.5 L968.5 740.9 L975.5 737.4 L982.5 730.6 L989.5 752.5 L996.5 741.7 L1003.5 732.9 L1010.5 724.8 L1017.5 722.3 L1024.5 729.2 L1031.5 733.9 L1038.5 726.1 L1046.5 731.6 L1053.5 730.6 L1060.5 726.7 L1067.5 714.1 L1074.5 718.6 L1081.5 715.5 L1088.5 723.4 L1095.5 725.4 L1102.5 738.9 L1109.5 742.2 L1116.5 736.4 L1123.5 730.0 L1130.5 731.6 L1137.5 742.8 L1144.5 737.4 L1151.5 732.2 L1159.5 724.2 L1166.5 736.4 L1173.5 733.8" fill="none" stroke="#7e57c2" stroke-width="1.1" stroke-linejoin="round"/>
<text class="ann" x="1231.1" y="191.7" fill="#111" textLength="45.8" lengthAdjust="spacingAndGlyphs">0.6730</text>
<text class="ann" x="1231.1" y="236.7" fill="#f23645" textLength="45.8" lengthAdjust="spacingAndGlyphs">0.6680</text>
<text class="ann" x="1282.6" y="236.7" fill="#f23645" textLength="126.7" lengthAdjust="spacingAndGlyphs">(pre-pandemic low)</text>
<text class="ann" x="1231.3" y="337.9" fill="#111" textLength="45.8" lengthAdjust="spacingAndGlyphs">0.6580</text>
<text class="ann" x="1282.4" y="337.9" fill="#111" textLength="77.1" lengthAdjust="spacingAndGlyphs">(April 2020)</text>
<text class="ann" x="1238.4" y="461.5" fill="#222" textLength="45.4" lengthAdjust="spacingAndGlyphs">0.6460</text>
<text class="ann" x="1238.4" y="553.6" fill="#ff9800" textLength="45.4" lengthAdjust="spacingAndGlyphs">0.6365</text>
<text class="ann" x="1245.6" y="646" fill="#111" textLength="45.4" lengthAdjust="spacingAndGlyphs">0.6272</text>
<text x="18.2" y="46" font-size="11.6" fill="#434651" textLength="21.1" lengthAdjust="spacingAndGlyphs">SMA</text>
<text x="46.6" y="46" font-size="11.6" fill="#f23645" textLength="41.4" lengthAdjust="spacingAndGlyphs">0.65372</text>
<text x="18.2" y="62.8" font-size="11.6" fill="#434651" textLength="21.1" lengthAdjust="spacingAndGlyphs">SMA</text>
<text x="46.6" y="62.8" font-size="11.6" fill="#3a3af5" textLength="41.4" lengthAdjust="spacingAndGlyphs">0.65703</text>
<text x="18.4" y="708.8" font-size="11.6" fill="#434651" textLength="15.6" lengthAdjust="spacingAndGlyphs">RSI</text>
<text x="41.7" y="708.8" font-size="11.6" fill="#7e57c2" textLength="28.6" lengthAdjust="spacingAndGlyphs">55.23</text>
<text x="78.6" y="708.8" font-size="11.6" fill="#ffeb3b" textLength="29.1" lengthAdjust="spacingAndGlyphs">56.40</text>
<text x="119.3" y="708.6" font-size="10" fill="#434651" text-anchor="middle">∅</text>
<text x="133.9" y="708.6" font-size="10" fill="#434651" text-anchor="middle">∅</text>
<text x="149.8" y="708.6" font-size="10" fill="#434651" text-anchor="middle">∅</text>
<text x="165" y="708.6" font-size="10" fill="#434651" text-anchor="middle">∅</text>
<text x="10.4" y="18.8" font-size="12" fill="#434651" textLength="386.6" lengthAdjust="spacingAndGlyphs">Richard_Snow published on TradingView.com, Jun 05, 2024 08:21 UTC+1</text>
<g shape-rendering="crispEdges">
<rect x="1472" y="27" width="1" height="795" fill="#3f434f"/>
<rect x="10" y="794" width="1526" height="1.4" fill="#3f434f"/>
</g>
<text class="ax" x="1479.8" y="81.8" textLength="41.9" lengthAdjust="spacingAndGlyphs">0.68500</text>
<text class="ax" x="1479.8" y="131.8" textLength="41.9" lengthAdjust="spacingAndGlyphs">0.68000</text>
<text class="ax" x="1479.8" y="181.8" textLength="41.9" lengthAdjust="spacingAndGlyphs">0.67500</text>
<text class="ax" x="1479.8" y="231.8" textLength="41.9" lengthAdjust="spacingAndGlyphs">0.67000</text>
<text class="ax" x="1479.8" y="331.8" textLength="41.9" lengthAdjust="spacingAndGlyphs">0.66000</text>
<text class="ax" x="1479.8" y="431.8" textLength="41.9" lengthAdjust="spacingAndGlyphs">0.65000</text>
<text class="ax" x="1479.8" y="481.8" textLength="41.9" lengthAdjust="spacingAndGlyphs">0.64500</text>
<text class="ax" x="1479.8" y="531.8" textLength="41.9" lengthAdjust="spacingAndGlyphs">0.64000</text>
<text class="ax" x="1479.8" y="581.8" textLength="41.9" lengthAdjust="spacingAndGlyphs">0.63500</text>
<text class="ax" x="1479.8" y="631.8" textLength="41.9" lengthAdjust="spacingAndGlyphs">0.63000</text>
<text class="ax" x="1479.8" y="681.8" textLength="41.9" lengthAdjust="spacingAndGlyphs">0.62500</text>
<text class="ax" x="1480.4" y="768.8" textLength="29" lengthAdjust="spacingAndGlyphs">40.00</text>
<rect x="1476" y="30.5" width="56" height="26" rx="4" fill="#fff" stroke="#e6e8f2" stroke-width="1.2"/>
<text x="1485" y="49.2" font-size="11" fill="#434651" textLength="20.7" lengthAdjust="spacingAndGlyphs">USD</text>
<path d="M1472 191H1526a2 2 0 0 1 2 2V206a2 2 0 0 1 -2 2H1472Z" fill="#000"/>
<text x="1479.8" y="203.8" font-size="12" fill="#fff" textLength="42" lengthAdjust="spacingAndGlyphs">0.67285</text>
<path d="M1472 239H1526a2 2 0 0 1 2 2V254a2 2 0 0 1 -2 2H1472Z" fill="#f23645"/>
<text x="1479.8" y="251.8" font-size="12" fill="#fff" textLength="42" lengthAdjust="spacingAndGlyphs">0.66800</text>
<path d="M1420.3 264H1470.7V281H1420.3a2 2 0 0 1 -2 -2V266a2 2 0 0 1 2 -2Z" fill="#26a69a"/>
<text x="1422.8" y="276.7" font-size="11.6" fill="#fff" textLength="43.5" lengthAdjust="spacingAndGlyphs">AUDUSD</text>
<path d="M1472 264H1530a2 2 0 0 1 2 2V293a2 2 0 0 1 -2 2H1472Z" fill="#26a69a"/>
<text x="1479.8" y="276.6" font-size="12" fill="#fff" textLength="42" lengthAdjust="spacingAndGlyphs">0.66554</text>
<text x="1480.4" y="290.7" font-size="12" fill="#fff" fill-opacity="0.75" textLength="45.3" lengthAdjust="spacingAndGlyphs">14:38:41</text>
<path d="M1472 295H1526a2 2 0 0 1 2 2V310a2 2 0 0 1 -2 2H1472Z" fill="#2962ff"/>
<text x="1479.8" y="307.8" font-size="12" fill="#fff" textLength="42" lengthAdjust="spacingAndGlyphs">0.66444</text>
<path d="M1472 339H1526a2 2 0 0 1 2 2V354a2 2 0 0 1 -2 2H1472Z" fill="#000"/>
<text x="1479.8" y="351.8" font-size="12" fill="#fff" textLength="42" lengthAdjust="spacingAndGlyphs">0.65802</text>
<path d="M1472 356H1526a2 2 0 0 1 2 2V371a2 2 0 0 1 -2 2H1472Z" fill="#000"/>
<text x="1479.8" y="368.8" font-size="12" fill="#fff" textLength="42" lengthAdjust="spacingAndGlyphs">0.65770</text>
<path d="M1472 373H1526a2 2 0 0 1 2 2V388a2 2 0 0 1 -2 2H1472Z" fill="#3129ff"/>
<text x="1479.8" y="385.8" font-size="12" fill="#fff" textLength="42" lengthAdjust="spacingAndGlyphs">0.65703</text>
<path d="M1472 390H1526a2 2 0 0 1 2 2V405a2 2 0 0 1 -2 2H1472Z" fill="#f23645"/>
<text x="1479.8" y="402.8" font-size="12" fill="#fff" textLength="42" lengthAdjust="spacingAndGlyphs">0.65372</text>
<path d="M1422.3 373H1470.7V390H1420.3V375a2 2 0 0 1 2 -2Z" fill="#3129ff"/>
<text x="1424.8" y="385.9" font-size="11.6" fill="#fff" textLength="41.5" lengthAdjust="spacingAndGlyphs">SMA:MA</text>
<path d="M1420.3 390H1470.7V407H1422.3a2 2 0 0 1 -2 -2Z" fill="#f23645"/>
<text x="1424.8" y="402.8" font-size="11.6" fill="#fff" textLength="41.5" lengthAdjust="spacingAndGlyphs">SMA:MA</text>
<path d="M1472 461H1526a2 2 0 0 1 2 2V476a2 2 0 0 1 -2 2H1472Z" fill="#000"/>
<text x="1479.8" y="473.8" font-size="12" fill="#fff" textLength="42" lengthAdjust="spacingAndGlyphs">0.64586</text>
<path d="M1472 556H1526a2 2 0 0 1 2 2V571a2 2 0 0 1 -2 2H1472Z" fill="#ff9800"/>
<text x="1479.8" y="568.8" font-size="12" fill="#111" textLength="42" lengthAdjust="spacingAndGlyphs">0.63633</text>
<path d="M1472 647H1526a2 2 0 0 1 2 2V662a2 2 0 0 1 -2 2H1472Z" fill="#000"/>
<text x="1479.8" y="659.8" font-size="12" fill="#fff" textLength="42" lengthAdjust="spacingAndGlyphs">0.62724</text>
<path d="M1393 709.8H1470.7V727H1393a2 2 0 0 1 -2 -2V711.8a2 2 0 0 1 2 -2Z" fill="#ffeb3b"/>
<text x="1395.3" y="722.6" font-size="11.6" fill="#111" textLength="71" lengthAdjust="spacingAndGlyphs">RSI-based MA</text>
<path d="M1472 709.8H1512.7a2 2 0 0 1 2 2V725a2 2 0 0 1 -2 2H1472Z" fill="#ffeb3b"/>
<text x="1479.8" y="722.6" font-size="11.6" fill="#111">56.40</text>
<path d="M1446.8 727H1470.7V744H1446.8a2 2 0 0 1 -2 -2V729a2 2 0 0 1 2 -2Z" fill="#7e57c2"/>
<text x="1449.5" y="739.8" font-size="12" fill="#fff" textLength="15.6" lengthAdjust="spacingAndGlyphs">RSI</text>
<path d="M1472 727H1512.7a2 2 0 0 1 2 2V742a2 2 0 0 1 -2 2H1472Z" fill="#7e57c2"/>
<text x="1479.8" y="739.8" font-size="11.6" fill="#fff">55.23</text>
<text class="tm" x="78.4" y="811.8" text-anchor="middle">Nov</text>
<text class="tm" x="233.3" y="811.8" text-anchor="middle">Dec</text>
<text class="tm" x="544.3" y="811.8" text-anchor="middle">Feb</text>
<text class="tm" x="692.3" y="811.8" text-anchor="middle">Mar</text>
<text class="tm" x="840.9" y="811.8" text-anchor="middle">Apr</text>
<text class="tm" x="996" y="811.8" text-anchor="middle">May</text>
<text class="tm" x="1158.4" y="811.8" text-anchor="middle">Jun</text>
<text class="tm" x="1300" y="811.8" text-anchor="middle">Jul</text>
<text class="tm" x="1462" y="811.8" text-anchor="middle">Aug</text>
<text x="382" y="811.8" text-anchor="middle" font-size="12" font-weight="bold" fill="#434651">2024</text>
<g fill="#131722">
<path d="M9.9 834.1H17.9V843.8H14V838.2H9.9Z"/>
<circle cx="21" cy="836" r="1.9"/>
<path d="M24.7 834.1H29.7L26 843.8H21.2Z"/>
</g>
<text x="33" y="843.8" font-size="13.4" fill="#131722" textLength="70.4" lengthAdjust="spacingAndGlyphs">TradingView</text>
<g font-size="56">
<text class="cjk" x="1301" y="812" fill="#777" fill-opacity="0.5" textLength="229" lengthAdjust="spacingAndGlyphs" transform="translate(2.2,2.2)">海马财经</text>
<text class="cjk" x="1301" y="812" fill="#fff" fill-opacity="0.9" textLength="229" lengthAdjust="spacingAndGlyphs">海马财经</text>
</g>
<g font-size="31" font-weight="bold" font-style="italic" letter-spacing="11.4">
<text x="1313.5" y="853" fill="#6b6f80" fill-opacity="0.6">zzrt01.cn</text>
<text x="1311.5" y="851" fill="#91adf7">zzrt01.cn</text>
</g>
</svg></body></html>
